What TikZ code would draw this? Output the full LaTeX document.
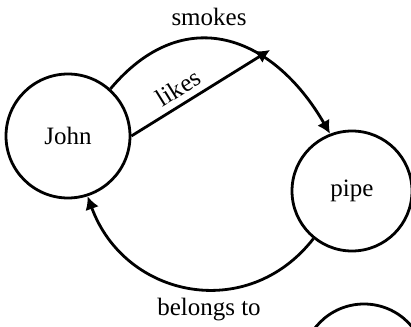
\documentclass[tikz,border=0pt]{standalone}
\usepackage{fontspec}
\setmainfont{Liberation Serif}
\usepackage{tikz}
\usetikzlibrary{arrows.meta,positioning}

\begin{document}
\begin{tikzpicture}[x=0.5pt,y=0.5pt,
    concept/.style={draw, circle, line width=1.4pt, inner sep=0pt},
    relation/.style={line width=1.4pt, -{Latex[length=6.5pt,width=7pt]}},
    font=\fontsize{12.5}{15}\selectfont]
        \useasboundingbox (0,0) rectangle (411,326);
        \node[concept, minimum size=62pt] (john) at (68,190) {John};
        \node[concept, minimum size=60pt] (pipe) at (352,135) {pipe};
        \node[concept, minimum size=62pt] (other) at (364,-40) {};
        \coordinate (tip) at (270,276);
        \draw[relation] (john.48) to[out=50, in=120, looseness=1.3] (pipe.111);
        \draw[relation] (john.east) -- (tip) node[pos=0.4, above=1pt, sloped, inner sep=2pt]{likes};
        \draw[relation] (pipe.231) to[out=232, in=290, looseness=1.2] (john.288);
        \node at (209,309) {smokes};
        \node at (209,16) {belongs to};
      \end{tikzpicture}
\end{document}
